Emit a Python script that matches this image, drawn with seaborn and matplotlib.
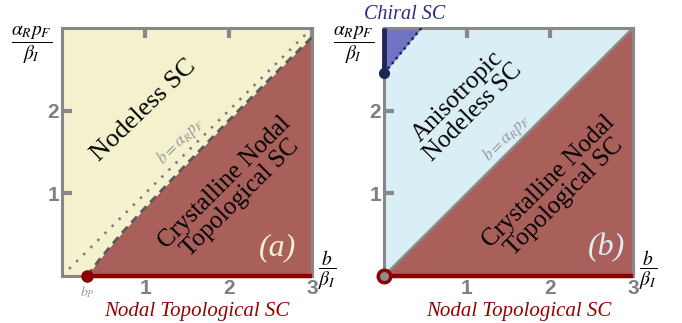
import numpy as np
import pandas as pd
import matplotlib
matplotlib.use('Agg')
import matplotlib.pyplot as plt
import seaborn as sns

# phase boundaries (units of beta_I)
diag_b = [0.0, 3.0]
diag_y = [0.0, 3.0]

# panel (a): boundary between nodeless and crystalline nodal phase
bnd_a_b = [0.30, 0.45, 0.70, 1.00, 1.50, 2.00, 2.50, 3.00]
bnd_a_y = [0.00, 0.20, 0.50, 0.83, 1.36, 1.88, 2.39, 2.89]
b_p = 0.30

# panel (b): chiral pocket near the top-left corner
chiral_b = [0.00, 0.45]
chiral_y = [2.45, 3.00]

x_ticks = [1, 2, 3]
y_ticks = [1, 2]

c_beige = '#f4f1cf'
c_red = '#a9605b'
c_blue = '#d9eef5'
c_chiral = '#7272c2'
c_navy = '#1e2558'
c_line = '#8b0000'
c_gray = '#888888'

sns.set_style('white')
plt.rcParams['mathtext.fontset'] = 'stix'
plt.rcParams['font.family'] = ['Liberation Serif', 'DejaVu Serif']
plt.rcParams['text.color'] = 'black'


def style_axes(ax):
    ax.set_xlim(0, 3)
    ax.set_ylim(0, 3)
    for s in ax.spines.values():
        s.set_color(c_gray)
        s.set_linewidth(2.2)
        s.set_visible(True)
    ax.set_xticks(x_ticks)
    ax.set_yticks(y_ticks)
    ax.tick_params(direction='in', length=7, width=3, color=c_gray,
                   bottom=True, left=True, top=True, right=True,
                   labeltop=False, labelright=False,
                   labelcolor='#7f7f7f', labelsize=15, pad=2)
    for lab in ax.get_xticklabels() + ax.get_yticklabels():
        lab.set_fontfamily('Liberation Sans')
        lab.set_fontweight('bold')
    ax.set_xlabel('')
    ax.set_ylabel('')
    ax.text(-0.04, 1.012, r'$\dfrac{\alpha_R p_F}{\beta_I}$', transform=ax.transAxes,
            ha='right', va='top', fontsize=14, color='black')
    ax.text(1.024, 0.024, r'$\dfrac{b}{\beta_I}$', transform=ax.transAxes,
            ha='left', va='center', fontsize=14, color='black')
    ax.text(0.54, -0.145, 'Nodal Topological SC', transform=ax.transAxes,
            ha='center', va='center', fontsize=15, style='italic', color='#990000')


fig = plt.figure(figsize=(6.82, 3.23), dpi=100)
ax1 = fig.add_axes([0.0909, 0.1455, 0.3666, 0.7678])
ax2 = fig.add_axes([0.5630, 0.1455, 0.3651, 0.7678])

# ---- panel (a)
ax1.set_facecolor(c_beige)
bb = np.array(bnd_a_b)
by = np.array(bnd_a_y)
ax1.fill_between(bb, 0, by, color=c_red, lw=0, zorder=1)
sns.lineplot(x=diag_b, y=diag_y, ax=ax1, color='#7a7a7a', lw=1.8,
             linestyle=(0, (1, 3)), zorder=3, sort=False)
sns.lineplot(x=bnd_a_b, y=bnd_a_y, ax=ax1, color='#5a5a5a', lw=2,
             linestyle=(0, (3, 2)), zorder=3, sort=False)
ax1.plot([b_p, 3], [0, 0], color=c_line, lw=3.2, clip_on=False, zorder=5,
         solid_capstyle='butt')
ax1.plot([b_p], [0], 'o', ms=8, color=c_line, clip_on=False, zorder=6)
ax1.text(b_p, -0.19, r'$b_P$', ha='center', va='center', fontsize=10, color='#999999')

ax1.text(0.98, 2.0, 'Nodeless SC', rotation=44, ha='center', va='center',
         fontsize=19, rotation_mode='anchor', color='black')
ax1.text(1.42, 1.64, r'$b=\alpha_R p_F$', rotation=45, ha='center', va='center',
         fontsize=12, color='#999999', rotation_mode='anchor')
ax1.text(2.05, 1.04, 'Crystalline Nodal\nTopological SC', rotation=45, ha='center',
         va='center', fontsize=18, rotation_mode='anchor', linespacing=1.0,
         color='black')
ax1.text(2.58, 0.34, '(a)', ha='center', va='center', fontsize=23,
         color='#f7f0cc', style='italic')
style_axes(ax1)

# ---- panel (b)
ax2.set_facecolor(c_blue)
ax2.fill_between(diag_b, 0, diag_y, color=c_red, lw=0, zorder=1)
ax2.fill_between(chiral_b, chiral_y, 3, color=c_chiral, lw=0, zorder=1)
sns.lineplot(x=diag_b, y=diag_y, ax=ax2, color='#8a8a8a', lw=1.8, zorder=3, sort=False)
sns.lineplot(x=chiral_b, y=chiral_y, ax=ax2, color=c_navy, lw=1.8,
             linestyle=(0, (1, 1.5)), zorder=3, sort=False)
ax2.plot([0, 0], [chiral_y[0], 3], color=c_navy, lw=3.5, clip_on=False, zorder=5,
         solid_capstyle='butt')
ax2.plot([0], [chiral_y[0]], 'o', ms=7, color=c_navy, clip_on=False, zorder=6)
ax2.plot([0, 3], [0, 0], color=c_line, lw=3.2, clip_on=False, zorder=5,
         solid_capstyle='butt')
ax2.plot([0], [0], 'o', ms=9, mfc='#8c8c8c', mec=c_line, mew=2.5,
         clip_on=False, zorder=6)

ax2.text(0.98, 2.08, 'Anisotropic\nNodeless SC', rotation=45, ha='center',
         va='center', fontsize=18, rotation_mode='anchor', linespacing=1.0,
         color='black')
ax2.text(1.48, 1.67, r'$b=\alpha_R p_F$', rotation=45, ha='center', va='center',
         fontsize=12, color='#999999', rotation_mode='anchor')
ax2.text(2.08, 1.05, 'Crystalline Nodal\nTopological SC', rotation=45, ha='center',
         va='center', fontsize=18, rotation_mode='anchor', linespacing=1.0,
         color='black')
ax2.text(2.68, 0.34, '(b)', ha='center', va='center', fontsize=23,
         color='#dbeef6', style='italic')
ax2.text(0.084, 1.056, 'Chiral SC', transform=ax2.transAxes, ha='center',
         va='center', fontsize=14.5, style='italic', color='#2b2b88')
style_axes(ax2)

fig.savefig('out.png', dpi=100)
